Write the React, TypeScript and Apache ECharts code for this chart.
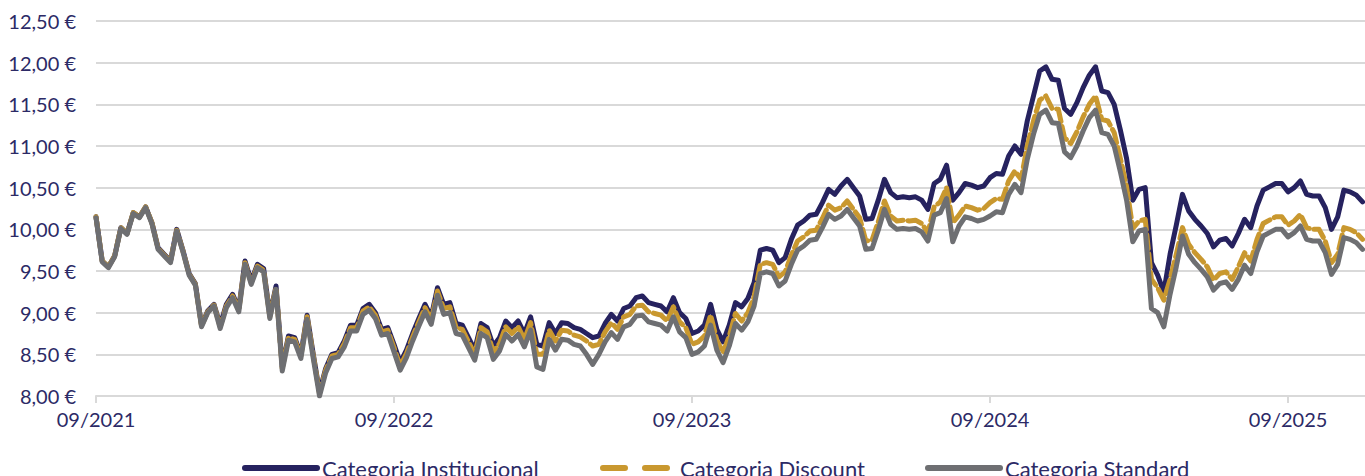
import React, { useEffect, useRef } from 'react';
import * as echarts from 'echarts';

const seriesNames = ['Categoria Institucional', 'Categoria Discount', 'Categoria Standard'];
const xTickLabels = ['09/2021', '09/2022', '09/2023', '09/2024', '09/2025'];
const STEP = 0.25; // months between two points (about one week), starting 09/2021

const institucional = [
  10.15, 9.62, 9.55, 9.68, 10.02, 9.95, 10.2, 10.15, 10.27, 10.08,
  9.78, 9.7, 9.62, 10.0, 9.75, 9.47, 9.35, 8.85, 9.02, 9.1,
  8.85, 9.1, 9.22, 9.05, 9.62, 9.38, 9.58, 9.53, 8.97, 9.32,
  8.35, 8.72, 8.7, 8.5, 8.97, 8.5, 8.05, 8.33, 8.5, 8.52,
  8.66, 8.85, 8.85, 9.05, 9.1, 9.0, 8.8, 8.82, 8.62, 8.4,
  8.55, 8.75, 8.93, 9.1, 8.95, 9.3, 9.1, 9.12, 8.87, 8.85,
  8.7, 8.55, 8.87, 8.82, 8.6, 8.7, 8.9, 8.82, 8.9, 8.75,
  8.95, 8.62, 8.6, 8.88, 8.75, 8.88, 8.87, 8.82, 8.8, 8.75,
  8.7, 8.72, 8.87, 8.98, 8.9, 9.05, 9.08, 9.18, 9.2, 9.12,
  9.1, 9.08, 9.01, 9.18, 9.0, 8.93, 8.75, 8.78, 8.85, 9.1,
  8.8, 8.65, 8.85, 9.12, 9.07, 9.17, 9.36, 9.75, 9.77, 9.75,
  9.6, 9.66, 9.88, 10.05, 10.1, 10.17, 10.18, 10.32, 10.48, 10.42,
  10.52, 10.6, 10.5, 10.4, 10.12, 10.13, 10.35, 10.6, 10.44, 10.38,
  10.39, 10.38, 10.39, 10.35, 10.24, 10.55, 10.6, 10.77, 10.35, 10.44,
  10.55, 10.53, 10.5, 10.52, 10.62, 10.67, 10.66, 10.88, 11.0, 10.9,
  11.3, 11.6, 11.9, 11.95, 11.8, 11.79, 11.45, 11.38, 11.52, 11.7,
  11.85, 11.95, 11.66, 11.64, 11.5, 11.19, 10.85, 10.35, 10.48, 10.5,
  9.6, 9.45, 9.25, 9.7, 10.05, 10.42, 10.22, 10.12, 10.04, 9.95,
  9.79, 9.87, 9.89, 9.8, 9.95, 10.12, 10.02, 10.28, 10.47, 10.51,
  10.55, 10.55, 10.45, 10.5, 10.58, 10.42, 10.4, 10.4, 10.26, 10.0,
  10.15, 10.47, 10.45, 10.41, 10.33,
];

const discount = [
  10.15, 9.62, 9.55, 9.68, 10.02, 9.95, 10.2, 10.15, 10.27, 10.08,
  9.77, 9.69, 9.61, 9.99, 9.74, 9.46, 9.34, 8.84, 9.01, 9.09,
  8.83, 9.08, 9.2, 9.03, 9.6, 9.36, 9.56, 9.51, 8.95, 9.3,
  8.33, 8.7, 8.68, 8.48, 8.95, 8.48, 8.03, 8.31, 8.48, 8.5,
  8.63, 8.82, 8.82, 9.02, 9.07, 8.97, 8.77, 8.79, 8.58, 8.36,
  8.51, 8.71, 8.89, 9.06, 8.91, 9.26, 9.05, 9.07, 8.82, 8.8,
  8.65, 8.5, 8.82, 8.77, 8.53, 8.63, 8.83, 8.75, 8.83, 8.68,
  8.88, 8.5, 8.5, 8.79, 8.66, 8.79, 8.78, 8.73, 8.71, 8.66,
  8.6, 8.62, 8.77, 8.88, 8.8, 8.95, 8.98, 9.08, 9.09, 9.01,
  8.99, 8.97, 8.9, 9.07, 8.89, 8.82, 8.62, 8.65, 8.72, 8.97,
  8.67, 8.52, 8.72, 8.99, 8.9, 9.0, 9.19, 9.58, 9.6, 9.58,
  9.43, 9.49, 9.69, 9.86, 9.91, 9.98, 9.99, 10.13, 10.29, 10.23,
  10.26, 10.34, 10.24, 10.14, 9.86, 9.87, 10.09, 10.34, 10.16, 10.1,
  10.11, 10.1, 10.11, 10.07, 9.96, 10.27, 10.33, 10.5, 10.08, 10.17,
  10.28, 10.26, 10.23, 10.25, 10.32, 10.37, 10.36, 10.58, 10.7, 10.6,
  11.0, 11.3, 11.55, 11.6, 11.45, 11.44, 11.1, 11.03, 11.17, 11.35,
  11.5, 11.6, 11.32, 11.3, 11.16, 10.85, 10.51, 10.01, 10.1, 10.12,
  9.4, 9.3, 9.15, 9.4, 9.7, 10.02, 9.82, 9.72, 9.64, 9.55,
  9.39, 9.47, 9.49, 9.4, 9.55, 9.72, 9.62, 9.88, 10.07, 10.11,
  10.15, 10.15, 10.05, 10.1, 10.18, 10.02, 10.0, 10.0, 9.86, 9.6,
  9.7, 10.02, 10.0, 9.96, 9.88,
];

const standard = [
  10.14, 9.61, 9.54, 9.67, 10.01, 9.94, 10.19, 10.14, 10.26, 10.07,
  9.76, 9.68, 9.6, 9.98, 9.73, 9.45, 9.33, 8.83, 9.0, 9.08,
  8.81, 9.06, 9.18, 9.01, 9.58, 9.34, 9.54, 9.49, 8.93, 9.28,
  8.3, 8.67, 8.65, 8.45, 8.92, 8.45, 8.0, 8.28, 8.45, 8.47,
  8.59, 8.78, 8.78, 8.98, 9.03, 8.93, 8.73, 8.75, 8.53, 8.31,
  8.46, 8.66, 8.84, 9.01, 8.86, 9.21, 8.98, 9.0, 8.75, 8.73,
  8.58, 8.43, 8.75, 8.7, 8.44, 8.54, 8.74, 8.66, 8.74, 8.59,
  8.79, 8.35, 8.32, 8.68, 8.55, 8.68, 8.67, 8.62, 8.6, 8.5,
  8.38, 8.5, 8.65, 8.76, 8.68, 8.83, 8.86, 8.96, 8.97, 8.89,
  8.87, 8.85, 8.78, 8.95, 8.77, 8.7, 8.5, 8.53, 8.6, 8.85,
  8.55, 8.4, 8.6, 8.87, 8.79, 8.89, 9.08, 9.47, 9.49, 9.47,
  9.32, 9.38, 9.58, 9.75, 9.8, 9.87, 9.88, 10.02, 10.18, 10.12,
  10.16, 10.24, 10.14, 10.04, 9.76, 9.77, 9.99, 10.24, 10.06, 10.0,
  10.01, 10.0, 10.01, 9.97, 9.86, 10.17, 10.2, 10.37, 9.85, 10.04,
  10.15, 10.13, 10.1, 10.12, 10.16, 10.21, 10.2, 10.42, 10.54, 10.44,
  10.84, 11.14, 11.38, 11.43, 11.28, 11.27, 10.93, 10.86, 11.0, 11.18,
  11.34, 11.43, 11.16, 11.14, 11.0, 10.69, 10.35, 9.85, 9.98, 10.0,
  9.05, 9.0, 8.83, 9.22, 9.55, 9.92, 9.7, 9.6, 9.52, 9.43,
  9.27, 9.35, 9.37, 9.28, 9.4, 9.57, 9.47, 9.73, 9.92, 9.96,
  10.0, 10.0, 9.91, 9.96, 10.04, 9.88, 9.86, 9.86, 9.72, 9.46,
  9.58, 9.9, 9.88, 9.84, 9.76,
];

const NAVY = '#26225f';
const GOLD = '#c9982f';
const GRAY = '#6e6f72';
const TEXT = '#2c2a66';
const GRID = '#d9d9d9';
const FONT = 'Lato, "Noto Sans", sans-serif';

export default function App() {
  const ref = useRef<HTMLDivElement>(null);
  useEffect(() => {
    const chart = echarts.init(ref.current!, null, { renderer: 'svg' });
    const toData = (arr: number[]) => arr.map((v, i) => [i * STEP, v]);
    const colors = [NAVY, GOLD, GRAY];
    const values = [institucional, discount, standard];
    const legendLeft = [242, 600, 925];
    chart.setOption({
      animation: false,
      grid: { left: 96, right: 0, top: 21, bottom: 80, containLabel: false },
      xAxis: {
        type: 'value',
        min: 0,
        max: 51.1,
        interval: 12,
        axisLine: { show: true, lineStyle: { color: GRID, width: 2 } },
        axisTick: { show: true, length: 7, lineStyle: { color: GRID, width: 2 } },
        splitLine: { show: false },
        axisLabel: {
          color: TEXT,
          fontFamily: FONT,
          fontSize: 20,
          margin: 13,
          showMaxLabel: false,
          formatter: (v: number) => {
            const k = Math.round(v / 12);
            return Math.abs(v - k * 12) < 1e-6 ? xTickLabels[k] ?? '' : '';
          },
        },
      },
      yAxis: {
        type: 'value',
        min: 8,
        max: 12.5,
        interval: 0.5,
        axisLine: { show: false },
        axisTick: { show: false },
        splitLine: { show: true, lineStyle: { color: GRID, width: 2 } },
        axisLabel: {
          color: TEXT,
          fontFamily: FONT,
          fontSize: 20,
          margin: 20,
          formatter: (v: number) => v.toFixed(2).replace('.', ',') + ' €',
        },
      },
      legend: seriesNames.map((name, k) => ({
        data: [name],
        left: legendLeft[k],
        top: 457,
        padding: 0,
        itemWidth: 72,
        itemHeight: 14,
        selectedMode: false,
        itemStyle: { opacity: 0, borderWidth: 0 },
        textStyle: { color: TEXT, fontFamily: FONT, fontSize: 22 },
        lineStyle: { width: 6, cap: 'round', type: k === 1 ? [22, 20] : 'solid' },
      })),
      series: seriesNames.map((name, k) => ({
        name,
        type: 'line',
        data: toData(values[k]),
        showSymbol: false,
        symbol: 'none',
        smooth: false,
        color: colors[k],
        lineStyle: {
          color: colors[k],
          width: 5,
          cap: 'round',
          join: 'round',
          type: k === 1 ? [14, 5] : 'solid',
        },
        emphasis: { disabled: true },
        z: 2 + k,
      })),
    });
    return () => chart.dispose();
  }, []);
  return (
    <div
      ref={ref}
      style={{ position: 'absolute', left: 0, top: 0, width: 1365, height: 476 }}
    />
  );
}
